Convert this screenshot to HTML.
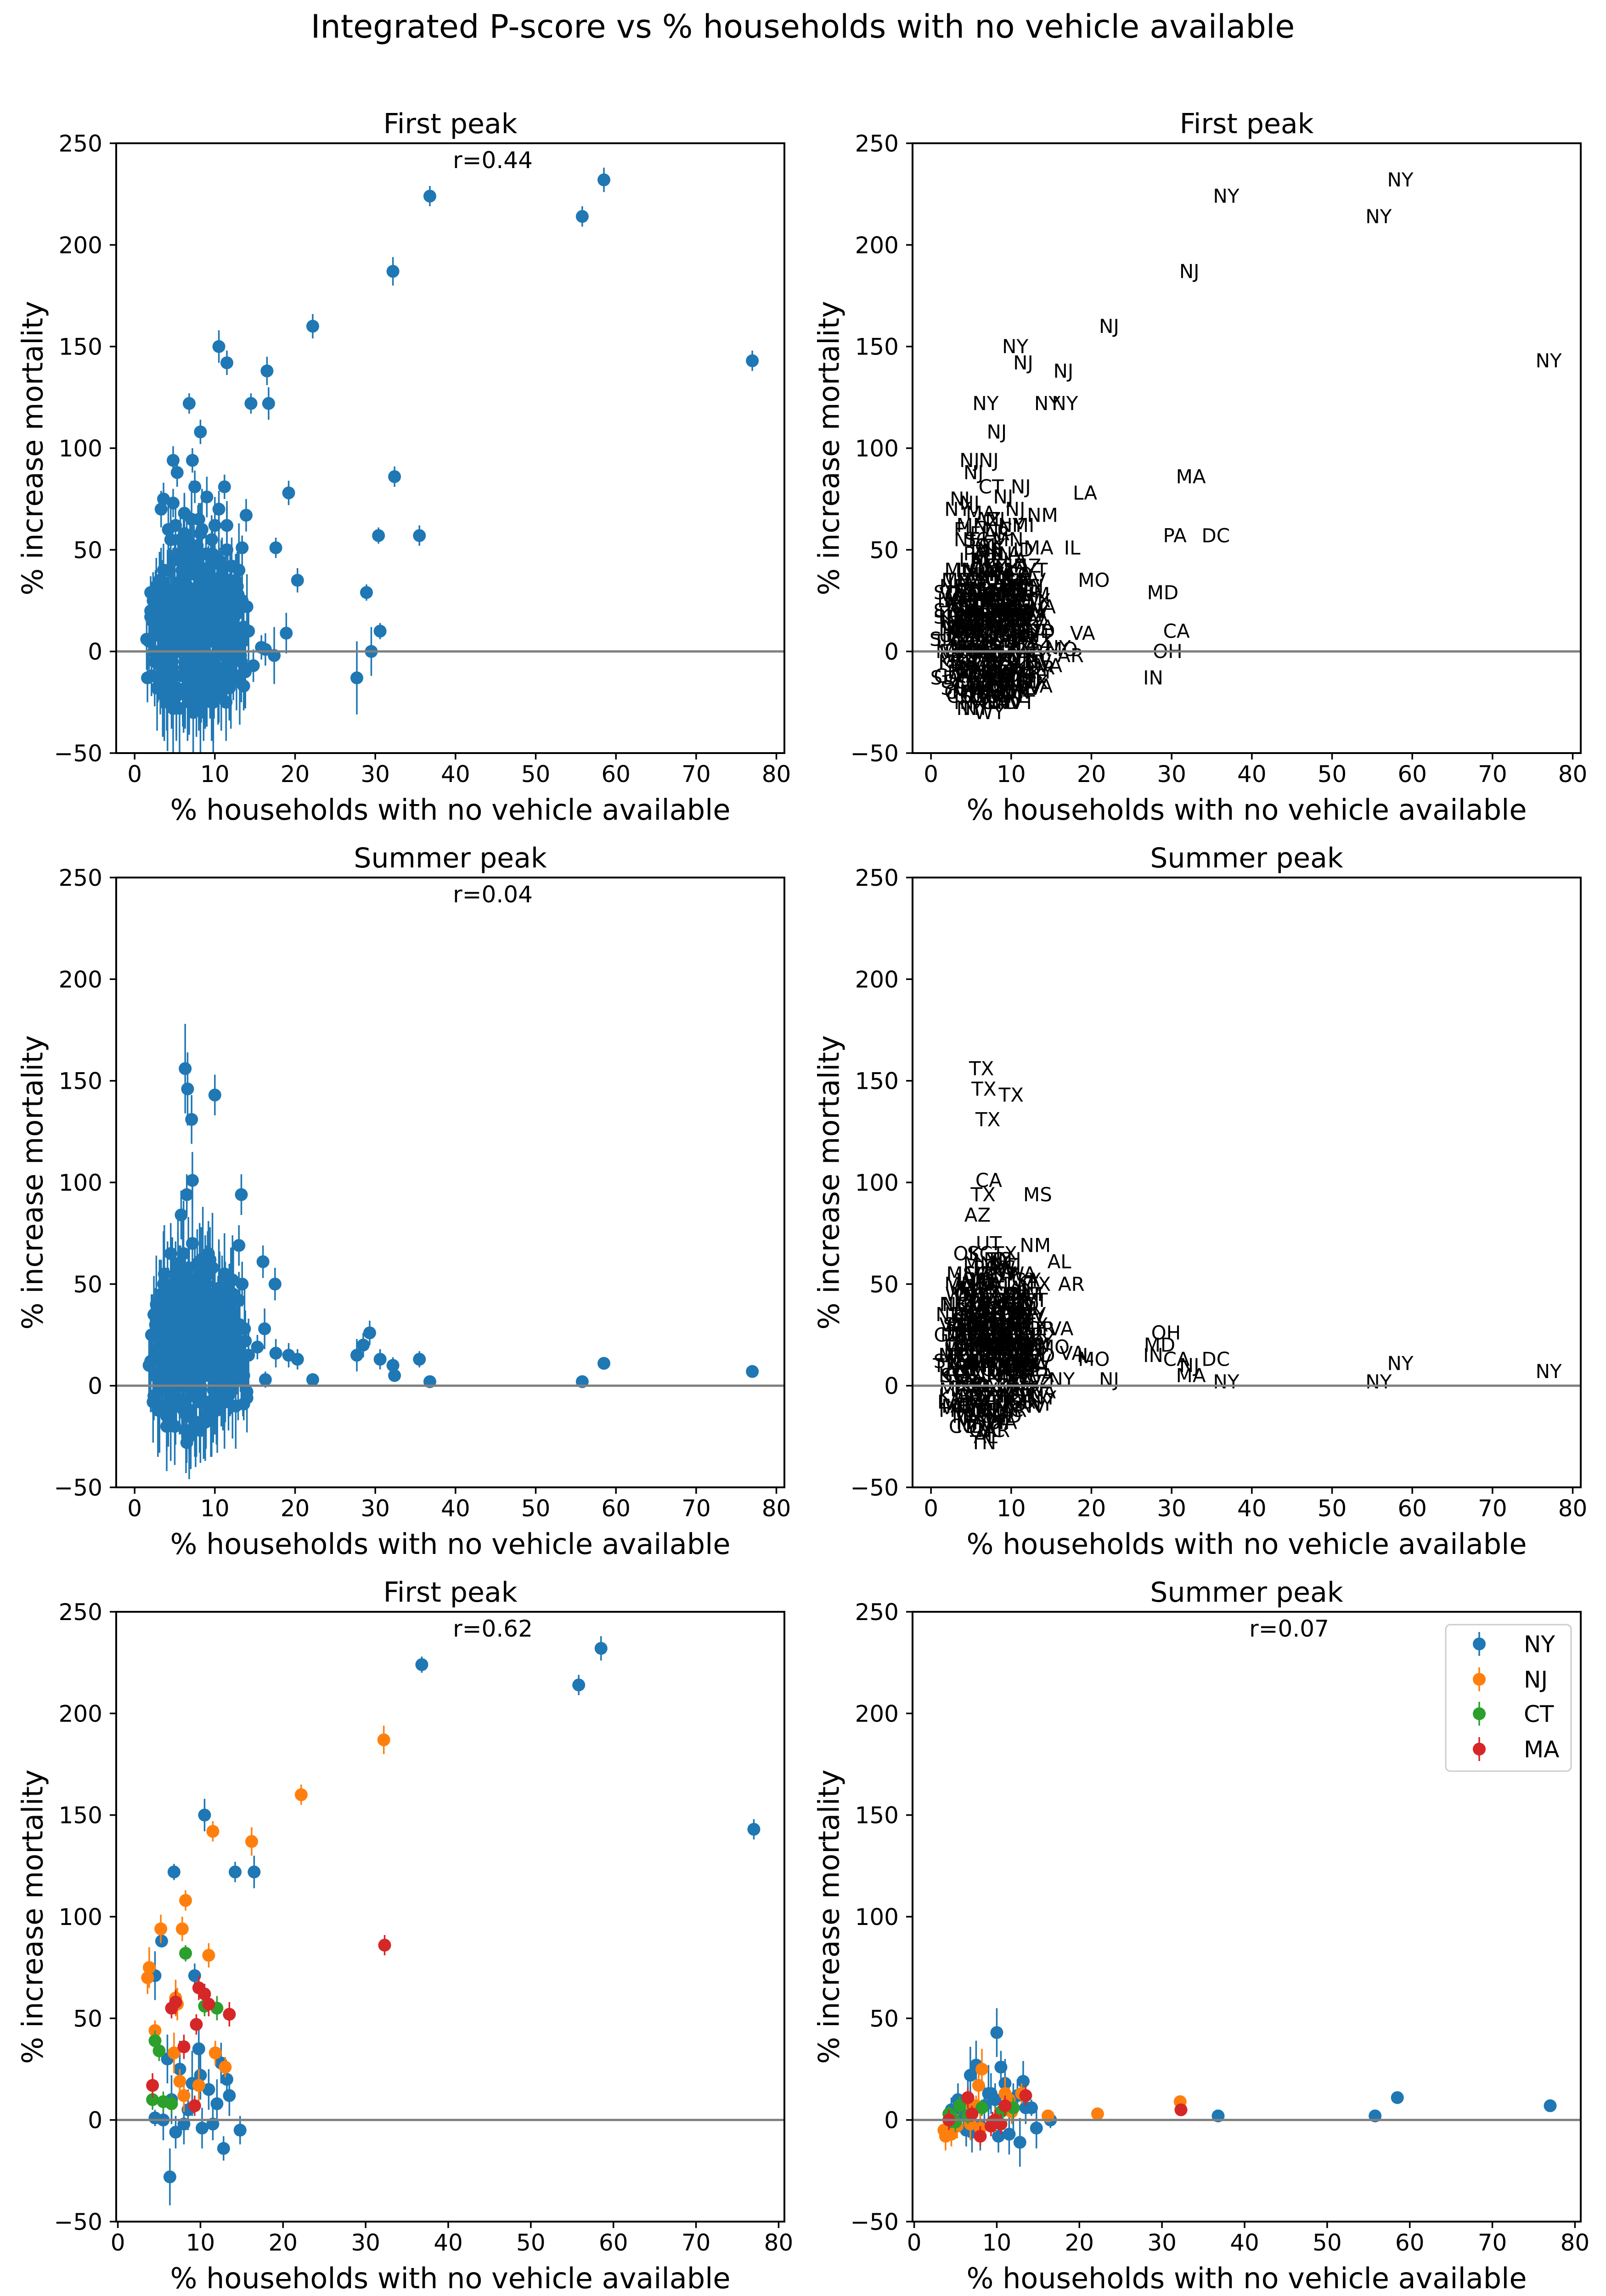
<!DOCTYPE html>
<html><head><meta charset="utf-8"><style>
html,body{margin:0;padding:0;background:#fff;width:3497px;height:5034px;overflow:hidden;}
svg{display:block;font-family:"DejaVu Sans","Liberation Sans",sans-serif;}
</style></head><body>
<svg id="fig" xmlns="http://www.w3.org/2000/svg" width="3497" height="5034" viewBox="0 0 3497 5034">
<rect x="0" y="0" width="3497" height="5034" fill="#fff"/>
<text x="1748" y="82" font-size="70" text-anchor="middle">Integrated P-score vs % households with no vehicle available</text>
</svg>
<script>
// ---- blob counties (shared x; first peak and summer peak values) ----
const blobX = [1.8,2.1,2.4,2.6,2.9,3.1,3.3,3.5,3.7,3.9,
4.1,4.2,4.4,4.5,4.7,4.8,5.0,5.1,5.2,5.4,
5.5,5.6,5.7,5.9,6.0,6.1,6.2,6.3,6.4,6.5,
6.6,6.7,6.8,6.9,7.0,7.1,7.2,7.3,7.4,7.5,
7.6,7.7,7.8,7.9,8.0,8.1,8.2,8.3,8.4,8.5,
8.6,8.7,8.8,8.9,9.0,9.1,9.2,9.3,9.4,9.5,
9.6,9.7,9.8,9.9,10.0,10.2,10.3,10.5,10.6,10.8,
10.9,11.0,11.2,11.3,11.5,11.6,11.8,12.0,12.1,12.3,
12.4,12.6,12.7,12.9,13.0,13.2,13.4,13.6,13.8,14.0,
3.0,3.6,4.3,4.9,5.3,5.8,6.3,6.6,7.0,7.4,
7.8,8.3,8.8,9.2,9.7,10.1,10.6,11.1,11.7,12.5,
2.3,2.8,3.4,4.0,4.6,5.1,5.6,6.1,6.5,7.1,
7.6,8.1,8.6,9.1,9.6,10.4,11.0,11.4,12.2,13.1,
4.4,5.2,6.0,6.8,7.5,8.4,9.4,10.2,11.2,12.8,
2.2,2.5,2.7,3.0,3.2,3.4,3.6,3.8,4.0,4.2,
4.4,4.6,4.8,5.0,5.2,5.4,5.6,5.8,6.0,6.2,
6.4,6.6,6.8,7.0,7.2,7.4,7.6,7.8,8.0,8.2,
8.4,8.6,8.8,9.0,9.2,9.4,9.6,9.8,10.0,10.2,
10.4,10.6,10.8,11.0,11.2,11.4,11.6,11.8,12.0,12.2,
3.3,3.9,4.5,5.1,5.7,6.3,6.9,7.5,8.1,8.7,
9.3,9.9,10.5,11.1,11.7,12.3,12.9,13.5,2.6,4.1,
5.3,6.5,7.7,8.9,10.1,11.3,3.5,4.7,5.9,7.1,
8.3,9.5,10.7,11.9,6.8,7.9,5.5,9.1,4.9,6.1,
2.0,2.4,2.9,3.3,3.8,4.3,4.8,5.3,5.8,6.3,
6.8,7.3,7.8,8.3,8.8,9.3,9.8,10.3,10.8,11.3,
11.8,12.3,12.8,13.3,3.1,4.6,6.2,7.7,9.2,10.7,
5.0,6.0,7.0,8.0,9.0,10.0,11.0,12.0,4.0,3.0,
5.5,6.5,7.5,8.5,9.5,10.5,11.5,4.5,6.7,8.7,
7.2,8.2,9.7,5.7,4.2,3.7,10.9,12.6,13.7,14.2];
const blobFirst = [5,-12,18,28,-5,12,35,-20,22,8,
-25,40,15,55,-8,30,2,62,-18,20,
48,-28,10,35,-12,25,58,-5,40,15,
-22,5,45,28,-15,65,18,-30,38,8,
30,-10,52,12,-25,42,22,2,60,-18,
35,-5,18,48,-20,28,5,40,-12,22,
55,10,-15,32,62,-8,25,45,2,-22,
38,15,-10,30,50,5,-18,25,42,-5,
18,35,-12,8,40,-2,25,12,-10,22,
0,10,-2,8,30,22,-18,32,3,50,
-2,15,25,-2,18,8,28,-2,12,0,
25,-18,-10,18,-15,-12,28,-20,2,-5,
18,-12,-22,12,-25,-15,18,-25,8,-15,
5,12,-20,-8,-2,38,30,15,28,32,
15,-5,32,8,-15,25,40,2,-20,18,
30,-8,12,45,-22,22,5,35,-12,28,
10,38,-18,20,0,42,-10,25,15,-25,
32,5,-15,22,40,-5,18,-20,30,8,
-12,25,42,0,18,-18,35,10,-8,20,
-2,12,-12,18,28,-8,38,15,-15,25,
5,-18,30,12,-2,15,28,5,8,25,
0,15,-22,30,-2,20,28,-5,40,12,
3,28,10,32,-25,48,22,-10,15,52,
20,0,12,22,-8,10,-28,8,18,-18,
22,-20,10,-12,12,20,-25,32,18,-15,
5,10,20,-5,35,28,5,30,12,35,
18,35,-2,25,-10,12,22,-15,2,15,
25,45,30,-8,35,-20,5,-10,14,-15,
52,58,48,55,60,-22,38,18,-8,10];
const blobSummer = [10,25,-5,30,15,40,2,20,55,-10,
22,-15,35,8,48,18,-20,30,12,60,
5,45,25,-8,35,65,15,28,-22,42,
20,52,-12,32,10,38,70,-5,25,48,
15,-18,40,28,8,55,-2,35,18,62,
30,5,50,-15,22,40,12,-8,45,25,
18,58,-2,35,10,28,-12,48,20,5,
40,15,55,-8,25,32,2,45,12,20,
35,-10,28,8,42,15,50,5,22,-3,
-2,8,2,45,20,12,50,0,-15,35,
45,25,5,30,40,20,10,30,-5,25,
-8,5,28,-20,-5,52,0,-12,10,22,
-5,0,-18,55,-10,38,-2,12,52,30,
12,-10,55,38,-22,8,62,-5,48,18,
25,5,40,-10,30,15,50,10,-15,35,
20,45,-5,28,12,55,0,38,22,-12,
30,12,48,5,35,20,-18,60,25,10,
42,18,-8,30,55,8,25,-12,38,15,
20,45,5,32,-8,25,12,40,18,-2,
18,32,10,-5,45,28,15,38,-8,22,
30,5,42,18,8,35,20,2,15,48,
35,-15,22,50,12,28,5,40,-10,30,
62,20,35,10,-25,18,32,58,25,0,
12,35,-12,45,25,-2,30,15,40,22,
0,25,42,12,-18,35,28,-5,15,38,
10,45,20,12,-10,25,38,15,65,30,
28,-8,32,18,45,0,22,8,35,18,
40,18,52,25,-15,32,12,-18,58,20,
22,-22,15,55,5,30,45,10,28,15];
const blobErrFirst = [14,10,18,12,20,9,16,22,11,15,
24,13,17,19,10,21,15,12,26,14,
11,23,16,13,25,12,18,20,14,17,
22,11,15,24,13,19,10,27,16,12,
18,21,9,25,14,16,23,12,20,15,
13,19,24,11,17,22,15,10,21,18,
12,20,16,23,14,11,19,25,13,17,
15,22,12,18,24,10,16,21,14,19,
20,13,17,11,23,15,24,12,18,16,
11,18,21,14,10,22,13,19,16,12,
20,15,11,17,22,13,19,24,12,16,
14,21,18,10,23,16,12,20,15,19,
17,12,22,14,19,11,25,16,13,21,
22,16,13,20,11,18,15,23,12,17,
18,22,14,26,16,20,13,24,19,15,
21,17,25,12,20,16,23,14,18,26,
15,20,22,17,24,13,21,19,16,25,
19,14,23,18,12,22,16,25,20,14,
24,16,13,21,18,26,15,20,23,17,
16,23,19,14,22,17,24,12,20,18,
21,15,18,24,13,20,16,22,17,25,
14,22,20,16,25,18,13,21,19,15,
23,17,14,20,16,24,19,13,22,18,
15,21,24,17,19,13,22,26,16,20,
20,14,17,23,15,19,25,16,21,13,
18,24,15,20,14,22,17,19,24,16,
22,16,21,13,25,18,14,23,17,20,
17,20,16,24,19,15,22,18,14,21,
12,15,13,14,16,22,18,20,19,15];
const blobErrSummer = [16,20,12,18,14,22,11,19,24,13,
21,15,17,12,25,14,19,16,10,23,
12,24,18,14,20,26,13,17,21,15,
19,13,22,16,11,18,28,15,20,24,
14,17,23,12,19,25,15,21,13,26,
18,11,24,16,20,22,14,10,25,17,
15,27,13,19,11,16,21,24,12,18,
22,14,20,10,26,13,17,23,16,19,
17,21,12,25,14,18,11,22,15,20,
13,19,24,16,22,12,18,15,26,11,
12,16,21,14,18,25,13,20,17,23,
20,10,15,22,17,19,24,12,21,14,
14,23,18,11,25,16,20,13,22,18,
19,12,26,17,13,21,16,24,14,20,
20,16,24,18,22,15,26,19,17,23,
17,22,15,25,19,21,16,24,20,18,
23,18,21,16,26,19,22,17,24,20,
21,24,17,22,18,25,20,16,23,19,
18,21,25,17,23,16,22,20,19,24,
22,17,20,24,16,23,19,21,25,18,
19,25,16,21,24,18,22,17,20,23,
24,18,22,19,17,25,21,23,16,20,
16,23,19,25,21,17,24,18,22,26,
25,19,23,17,22,20,16,24,18,21,
20,22,18,24,19,16,25,21,17,23,
17,24,21,18,23,19,20,25,16,22,
23,18,25,20,16,24,19,22,21,17,
18,21,17,23,20,22,16,19,25,24,
22,16,20,14,18,21,19,17,23,18];
const blobStatePool = ["TX","GA","KY","VA","MO","NC","TN","OH","MS","AL","IN","IL","KS","NE","IA","SD","ND","MN","WI","MI","PA","NY","OK","AR","LA","SC","FL","CO","CA","WA","OR","ID","MT","WV","NM","AZ","UT","WY","NV","ME","NH","VT","KY"];

// ---- first-peak outliers ----
const outFirstX = [58.5,36.8,55.8,32.2,22.2,10.5,11.5,16.5,77,6.8,14.5,16.7,8.2,32.4,19.2,30.4,35.5,17.6,20.3,28.9,30.6,18.9,29.5,27.7,15.8,16.3,17.4,14.8,13.6,4.8,7.2,5.3,7.5,11.2,3.6,3.3,4.8,9,13.9,10.5,13.4,6.2,8,11.5,1.5,1.6,2,2];
const outFirstY = [232,224,214,187,160,150,142,138,143,122,122,122,108,86,78,57,57,51,35,29,10,9,0,-13,2,1,-2,-7,-17,94,94,88,81,81,75,70,73,76,67,70,51,68,65,62,6,-13,17,29];
const outFirstE = [6,5,5,7,6,8,6,7,5,5,5,8,6,5,6,4,5,5,6,4,4,10,12,18,6,8,14,8,12,7,6,7,8,6,8,9,7,10,8,9,6,10,8,9,15,12,10,8];
const outFirstState = ["NY","NY","NY","NJ","NJ","NY","NJ","NJ","NY","NY","NY","NY","NJ","MA","LA","PA","DC","IL","MO","MD","CA","VA","OH","IN","NY","MO","AR","VA","VA","NJ","NJ","NJ","CT","NJ","NJ","NY","NJ","NJ","NM","NJ","MA","MA","NJ","MI","SD","SD","SD","SD"];

// ---- summer-peak outliers ----
const outSumX = [77,58.5,55.8,36.8,35.5,32.4,32.2,30.6,29.3,28.5,27.7,22.2,20.3,19.2,17.6,17.5,16.2,16.0,16.3,15.3,14.0,13.6,13.3,10,6.3,6.6,7.1,7.2,6.5,5.8,4.5,13,11.8,6.5];
const outSumY = [7,11,2,2,13,5,10,13,26,20,15,3,13,15,16,50,28,61,3,19,-6,-9,94,143,156,146,131,101,94,84,65,69,52,-28];
const outSumE = [3,3,2,2,4,3,4,5,6,6,8,3,5,6,7,8,10,8,4,6,7,6,10,10,22,18,12,14,10,12,15,10,8,10];
const outSumState = ["NY","NY","NY","NY","DC","MA","NJ","CA","OH","MD","IN","NJ","MO","IL","VA","AR","VA","AL","NY","MO","NY","NY","MS","TX","TX","TX","TX","CA","TX","AZ","OK","NM","GA","TN"];

// ---- NY/NJ/CT/MA subset ----
const subX = [36.8,58.5,55.8,77,10.5,14.2,16.5,6.8,5.3,4.5,9.3,4.5,6.3,14.8,12.8,5.5,6.5,7.5,8.5,9,10,11,12,13.2,13.5,7,8,10.2,11.5,12.5,6,9.8,
32.2,22.2,11.5,16.2,8.2,5.2,7.8,11,3.8,3.6,7,7.2,4.5,6.8,8,7.5,11.8,13,9.8,
8.2,4.5,5,4.2,5.5,6.5,12,10.5,
32.3,9.8,10.5,11,13.5,6.5,7,9.5,8,4.2,9.3];
const subFirst = [224,232,214,143,150,122,122,122,88,71,71,1,-28,-5,-14,0,10,25,5,18,22,15,8,20,12,-6,-2,-4,-2,28,30,35,
187,160,142,137,108,94,94,81,75,70,60,57,44,33,12,19,33,26,17,
82,39,34,10,9,8,55,56,
86,65,62,57,52,55,58,47,36,17,7];
const subFirstErr = [4,6,5,5,8,5,8,4,3,12,6,4,14,7,6,10,12,14,10,16,12,10,12,8,10,8,10,10,8,10,12,14,
7,5,5,7,5,7,6,6,10,8,9,8,5,10,8,6,6,5,8,
4,5,5,5,5,5,6,5,
5,6,5,6,6,5,6,5,6,6,5];
const subSummer = [2,11,2,7,26,6,0,22,10,5,13,-3,-5,-4,-11,2,10,27,7,13,43,18,6,19,6,-6,-3,-8,-7,12,3,10,
9,3,10,2,25,-3,17,13,-8,-5,6,5,-7,-2,-4,7,4,13,0,
6,1,-1,3,7,2,6,4,
5,0,-2,7,12,11,3,-1,-8,0,-3];
const subSummerErr = [2,3,2,3,8,4,4,14,8,6,10,5,8,10,12,8,14,12,10,14,12,12,12,10,8,10,12,8,10,8,8,8,
3,2,6,3,10,6,8,8,7,6,6,5,6,8,8,5,6,5,6,
4,5,5,4,5,4,5,4,
3,5,5,5,5,5,4,5,5,5,5];
const subState = ["NY","NY","NY","NY","NY","NY","NY","NY","NY","NY","NY","NY","NY","NY","NY","NY","NY","NY","NY","NY","NY","NY","NY","NY","NY","NY","NY","NY","NY","NY","NY","NY",
"NJ","NJ","NJ","NJ","NJ","NJ","NJ","NJ","NJ","NJ","NJ","NJ","NJ","NJ","NJ","NJ","NJ","NJ","NJ",
"CT","CT","CT","CT","CT","CT","CT","CT",
"MA","MA","MA","MA","MA","MA","MA","MA","MA","MA","MA"];
const legendStates = ["NY","NJ","CT","MA"];
const xTicks = [0,10,20,30,40,50,60,70,80];
const yTicks = [-50,0,50,100,150,200,250];

const stateColor = {NY:"#1f77b4",NJ:"#ff7f0e",CT:"#2ca02c",MA:"#d62728"};
const NS = "http://www.w3.org/2000/svg";
const svg = document.getElementById('fig');
const PW = 1455, PH = 1328;
const FONT_TICK = 50;

function mk(tag, attrs, parent) {
  const el = document.createElementNS(NS, tag);
  for (const k in attrs) el.setAttribute(k, attrs[k]);
  parent.appendChild(el);
  return el;
}

const panels = [
  {px:253,  py:312,  xmin:-2.3, xmax:81.0, kind:"points", src:"first",  title:"First peak",  r:"r=0.44", name:"first-peak-all"},
  {px:1987, py:312,  xmin:-2.3, xmax:81.0, kind:"labels", src:"first",  title:"First peak",  r:null,     name:"first-peak-labels"},
  {px:253,  py:1911, xmin:-2.3, xmax:81.0, kind:"points", src:"summer", title:"Summer peak", r:"r=0.04", name:"summer-peak-all"},
  {px:1987, py:1911, xmin:-2.3, xmax:81.0, kind:"labels", src:"summer", title:"Summer peak", r:null,     name:"summer-peak-labels"},
  {px:253,  py:3510, xmin:-0.2, xmax:80.7, kind:"subset", src:"first",  title:"First peak",  r:"r=0.62", name:"first-peak-subset"},
  {px:1987, py:3510, xmin:-0.2, xmax:80.7, kind:"subset", src:"summer", title:"Summer peak", r:"r=0.07", name:"summer-peak-subset", legend:true}
];

panels.forEach(function(p) {
  const g = mk('g', {}, svg);
  
  
  const sx = v => p.px + (v - p.xmin) / (p.xmax - p.xmin) * PW;
  const sy = v => p.py + (250 - v) / 300 * PH;

  const clipId = 'clip-' + p.name;
  const cp = mk('clipPath', {id: clipId}, g);
  mk('rect', {x: p.px, y: p.py, width: PW, height: PH}, cp);
  const data = mk('g', {'clip-path': 'url(#' + clipId + ')'}, g);
  
  

  function drawPoints(xs, ys, es, color, label) {
    const bars = mk('g', {stroke: color, 'stroke-width': 3.5}, data);
    
    
    for (let i = 0; i < xs.length; i++) {
      const ln = mk('line', {x1: sx(xs[i]), x2: sx(xs[i]), y1: sy(ys[i] - es[i]), y2: sy(ys[i] + es[i])}, bars);
      
      
    }
    const dots = mk('g', {fill: color}, data);
    
    
    for (let i = 0; i < xs.length; i++) {
      const c = mk('circle', {cx: sx(xs[i]), cy: sy(ys[i]), r: 14}, dots);
      
      
    }
  }
  function drawLabels(xs, ys, sts, label) {
    const tg = mk('g', {'font-size': 42, 'text-anchor': 'middle', 'dominant-baseline': 'central', fill: '#000'}, data);
    
    
    for (let i = 0; i < xs.length; i++) {
      const t = mk('text', {x: sx(xs[i]), y: sy(ys[i])}, tg);
      t.textContent = sts[i];
      
      
    }
  }

  const blobY = p.src === 'first' ? blobFirst : blobSummer;
  const blobE = p.src === 'first' ? blobErrFirst : blobErrSummer;
  const oX = p.src === 'first' ? outFirstX : outSumX;
  const oY = p.src === 'first' ? outFirstY : outSumY;
  const oE = p.src === 'first' ? outFirstE : outSumE;
  const oS = p.src === 'first' ? outFirstState : outSumState;

  if (p.kind === 'points') {
    drawPoints(blobX.concat(oX), blobY.concat(oY), blobE.concat(oE), '#1f77b4', 'county');
  } else if (p.kind === 'labels') {
    const blobS = blobX.map((_, i) => blobStatePool[i % blobStatePool.length]);
    drawLabels(blobX.concat(oX), blobY.concat(oY), blobS.concat(oS), 'county-state-labels');
  } else {
    const ys = p.src === 'first' ? subFirst : subSummer;
    const es = p.src === 'first' ? subFirstErr : subSummerErr;
    legendStates.forEach(function(st) {
      const xs = [], yy = [], ee = [];
      subState.forEach(function(s, i) { if (s === st) { xs.push(subX[i]); yy.push(ys[i]); ee.push(es[i]); } });
      drawPoints(xs, yy, ee, stateColor[st], st.toLowerCase());
    });
  }

  const zl = mk('line', {x1: p.px, x2: p.px + PW, y1: sy(0), y2: sy(0), stroke: '#808080', 'stroke-width': 5}, g);
  
  

  const fr = mk('rect', {x: p.px, y: p.py, width: PW, height: PH, fill: 'none', stroke: '#000', 'stroke-width': 4}, g);
  
  

  xTicks.forEach(function(v) {
    const X = sx(v);
    const tk = mk('line', {x1: X, x2: X, y1: p.py + PH, y2: p.py + PH + 14, stroke: '#000', 'stroke-width': 3.5}, g);
    
    
    const t = mk('text', {x: X, y: p.py + PH + 63, 'font-size': FONT_TICK, 'text-anchor': 'middle'}, g);
    t.textContent = String(v);
    
    
  });
  yTicks.forEach(function(v) {
    const Y = sy(v);
    const tk = mk('line', {x1: p.px - 14, x2: p.px, y1: Y, y2: Y, stroke: '#000', 'stroke-width': 3.5}, g);
    
    
    const t = mk('text', {x: p.px - 30, y: Y + 18, 'font-size': FONT_TICK, 'text-anchor': 'end'}, g);
    t.textContent = v < 0 ? '\u2212' + Math.abs(v) : String(v);
    
    
  });

  const cx = p.px + PW / 2;
  const ttl = mk('text', {x: cx, y: p.py - 22, 'font-size': 60, 'text-anchor': 'middle'}, g);
  ttl.textContent = p.title;
  
  

  if (p.r) {
    const rt = mk('text', {x: p.px + 820, y: p.py + 54, 'font-size': 50, 'text-anchor': 'middle'}, g);
    rt.textContent = p.r;
    
    
  }

  const xl = mk('text', {x: cx, y: p.py + PH + 145, 'font-size': 62, 'text-anchor': 'middle'}, g);
  xl.textContent = '% households with no vehicle available';
  
  

  const yc = p.py + PH / 2;
  const yl = mk('text', {x: p.px - 182, y: yc, 'font-size': 62, 'text-anchor': 'middle', transform: 'rotate(-90 ' + (p.px - 182) + ' ' + yc + ')', 'dominant-baseline': 'central'}, g);
  yl.textContent = '% increase mortality';
  
  

  if (p.legend) {
    const lg = mk('g', {}, g);
    
    
    const box = mk('rect', {x: 3148, y: 3538, width: 273, height: 319, rx: 10, fill: '#fff', 'fill-opacity': 0.8, stroke: '#cccccc', 'stroke-width': 3}, lg);
    
    
    const rowsY = [3580, 3657, 3732, 3809];
    legendStates.forEach(function(st, i) {
      const e = mk('g', {}, lg);
      
      
      const ln = mk('line', {x1: 3221, x2: 3221, y1: rowsY[i] - 26, y2: rowsY[i] + 26, stroke: stateColor[st], 'stroke-width': 3.5}, e);
      
      
      const c = mk('circle', {cx: 3221, cy: rowsY[i], r: 14, fill: stateColor[st]}, e);
      
      
      const t = mk('text', {x: 3318, y: rowsY[i] + 18, 'font-size': 50}, e);
      t.textContent = st;
      
      
    });
  }
});
</script>
</body></html>
